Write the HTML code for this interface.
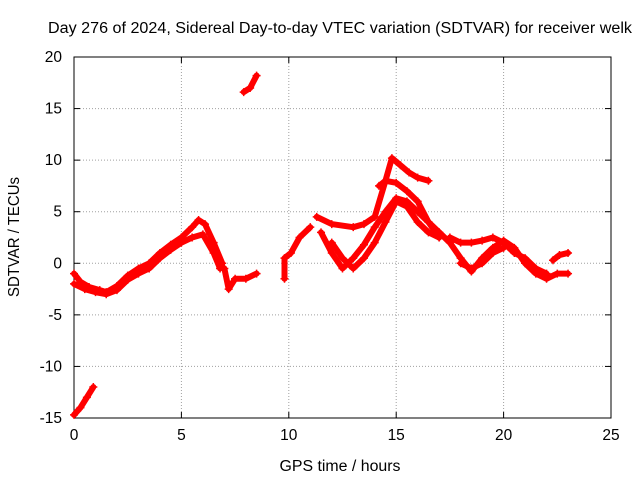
<!DOCTYPE html>
<html><head><meta charset="utf-8"><style>
body{margin:0;background:#fff}
svg text{font-family:"Liberation Sans",sans-serif;font-size:15.5px;fill:#000}
</style></head><body>
<svg id="chart" width="640" height="480" viewBox="0 0 640 480" xmlns="http://www.w3.org/2000/svg">
<rect width="640" height="480" fill="#fff"/>
<text x="340" y="33" text-anchor="middle" textLength="584" lengthAdjust="spacingAndGlyphs">Day 276 of 2024, Sidereal Day-to-day VTEC variation (SDTVAR) for receiver welk</text>
<text x="340" y="471" text-anchor="middle" textLength="121" lengthAdjust="spacingAndGlyphs">GPS time / hours</text>
<text transform="translate(19,237) rotate(-90)" text-anchor="middle" textLength="120" lengthAdjust="spacingAndGlyphs">SDTVAR / TECUs</text>
<g id="grid"></g>
<g id="axes"></g>
<g id="marks"></g>
</svg>
<script>
const xTicks=[0,5,10,15,20,25];
const yTicks=[20,15,10,5,0,-5,-10,-15];
const trackA=[[0,-14.7],[0.3,-14],[0.6,-13],[0.9,-12]];
const trackB=[[0,-1],[0.3,-1.8],[0.7,-2.3],[1.2,-2.6],[1.5,-2.8],[2,-2.2],[2.5,-1.2],[3,-0.5],[3.5,0],[4,1],[4.5,1.8],[5,2.5],[5.5,3.5],[5.8,4.2],[6.1,3.8],[6.5,2],[6.9,0]];
const trackC=[[0,-2],[0.5,-2.5],[1,-2.8],[1.5,-3],[2,-2.6],[2.5,-1.6],[3,-1],[3.5,-0.5],[4,0.5],[4.5,1.3],[5,2],[5.5,2.5],[6,2.8],[6.5,1],[6.8,-0.5]];
const trackD=[[7,-0.5],[7.2,-2.5],[7.5,-1.5],[8,-1.5],[8.5,-1]];
const trackE=[[7.9,16.6],[8.2,17],[8.5,18.2]];
const trackF=[[9.8,-1.5],[9.8,0.5],[10.1,1],[10.5,2.5],[11,3.5]];
const trackG=[[11.3,4.5],[12,3.8],[13,3.5],[13.5,3.8],[14,4.5],[14.5,8],[14.8,10.2],[15.2,9.5],[15.6,8.8],[16,8.3],[16.5,8]];
const trackH=[[14.2,7.5],[14.5,8],[15,7.8],[15.5,7],[16,6],[16.5,4],[17,2.5]];
const trackI=[[12,2],[12.5,0.5],[13,-0.5],[13.5,0.5],[14,2],[14.5,4],[15,6],[15.5,5.5],[16,4],[16.5,3],[17,2.5]];
const trackJ=[[11.5,3],[12,1],[12.5,-0.5],[13,0.5],[13.5,1.8],[14,3.5],[14.5,5],[15,6.3],[15.5,6],[16,5],[16.5,4],[17,3]];
const trackK=[[17,3],[17.5,2],[18,0.5],[18.5,-0.8],[19,0.5],[19.5,1.5],[20,2.2],[20.5,1.5],[21,0],[21.5,-1],[22,-1.5],[22.5,-1],[23,-1]];
const trackL=[[17.5,2.5],[18,2],[18.5,2],[19,2.2],[19.5,2.5],[20,2],[20.5,1],[21,0.5],[21.5,-0.5],[22,-1]];
const trackM=[[18,0],[18.5,-0.5],[19,0],[19.5,1],[20,1.5]];
const trackN=[[22.3,0.3],[22.6,0.8],[23,1]];
const tracks=[trackA,trackB,trackC,trackD,trackE,trackF,trackG,trackH,trackI,trackJ,trackK,trackL,trackM,trackN];
const X0=74,X1=611,Y0=418,Y1=57;
const sx=v=>X0+(v-0)/25*(X1-X0);
const sy=v=>Y0-(v+15)/35*(Y0-Y1);
const NS="http://www.w3.org/2000/svg";
function mk(t,a,p){const e=document.createElementNS(NS,t);for(const k in a)e.setAttribute(k,a[k]);p.appendChild(e);return e;}
const grid=document.getElementById('grid'),axes=document.getElementById('axes'),marks=document.getElementById('marks');
xTicks.forEach(t=>{const x=sx(t);
 if(t>0&&t<25){const l=mk('line',{x1:x,x2:x,y1:Y1,y2:Y0,stroke:'#a0a0a0','stroke-dasharray':'1,2','stroke-width':1},grid);}
 mk('line',{x1:x,x2:x,y1:Y0,y2:Y0-6,stroke:'#000'},axes);mk('line',{x1:x,x2:x,y1:Y1,y2:Y1+6,stroke:'#000'},axes);
 const tx=mk('text',{x:x,y:Y0+22,'text-anchor':'middle'},axes);tx.textContent=t;
 });
yTicks.forEach(t=>{const y=sy(t);
 if(t>-15&&t<20){const l=mk('line',{x1:X0,x2:X1,y1:y,y2:y,stroke:'#a0a0a0','stroke-dasharray':'1,2','stroke-width':1},grid);}
 mk('line',{x1:X0,x2:X0+6,y1:y,y2:y,stroke:'#000'},axes);mk('line',{x1:X1,x2:X1-6,y1:y,y2:y,stroke:'#000'},axes);
 const tx=mk('text',{x:X0-12,y:y+5,'text-anchor':'end'},axes);tx.textContent=t;
 });
const fr=mk('rect',{x:X0,y:Y1,width:X1-X0,height:Y0-Y1,fill:'none',stroke:'#000'},axes);

tracks.forEach(tr=>{
 const pl=mk('polyline',{points:tr.map(p=>sx(p[0])+','+sy(p[1])).join(' '),fill:'none',stroke:'#f00','stroke-width':6,'stroke-linejoin':'round','stroke-linecap':'round'},marks);
 
 tr.forEach(p=>{const x=sx(p[0]),y=sy(p[1]);
  const m=mk('path',{d:`M${x-4},${y}h8M${x},${y-4}v8`,stroke:'#f00','stroke-width':1.5},marks);
  });
});
</script>
</body></html>
